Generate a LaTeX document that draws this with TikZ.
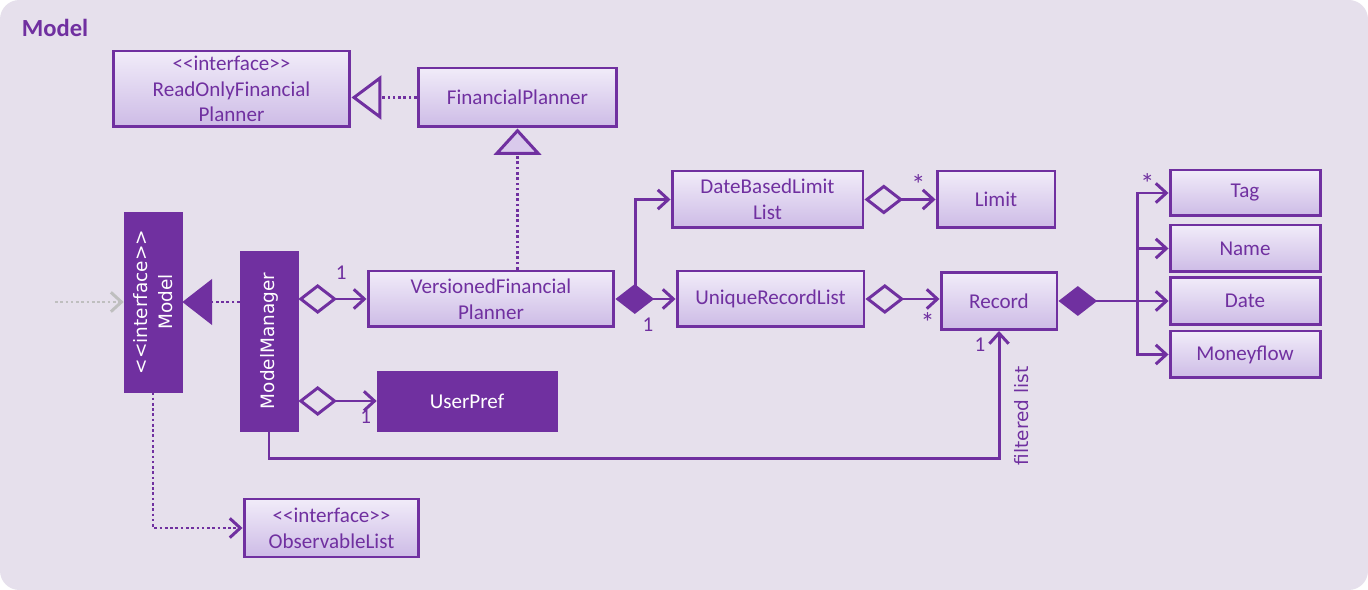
\documentclass[tikz,border=0pt]{standalone}
\usepackage{fontspec}
\setmainfont{Carlito}
\newfontfamily\vfont{DejaVu Sans}
\usetikzlibrary{arrows.meta,positioning,calc}
\definecolor{umlpurple}{HTML}{7030A0}
\definecolor{bg}{HTML}{E6E0EC}
\definecolor{boxtop}{HTML}{F1ECF9}
\definecolor{boxbot}{HTML}{CDBBE6}
\definecolor{trifill}{HTML}{D9CAEC}

\begin{document}
\begin{tikzpicture}[
  x=0.02cm, y=-0.02cm,
  font=\fontsize{12}{14.7}\selectfont,
  box/.style={draw=umlpurple, line width=1.7pt, top color=boxtop, bottom color=boxbot, text=umlpurple, align=center, inner sep=2pt},
  darkbox/.style={draw=umlpurple, fill=umlpurple, text=white, align=center, inner sep=2pt},
  vtext/.style={font=\vfont\fontsize{10.5}{14.5}\selectfont},
  mult/.style={text=umlpurple, inner sep=1pt},
  star/.style={mult, font=\fontsize{16}{16}\selectfont},
  assoc/.style={draw=umlpurple, line width=1.7pt, -{Straight Barb[length=6pt,width=11pt]}},
  agg/.style={assoc, {Diamond[open,length=22pt,width=17pt]}-{Straight Barb[length=6pt,width=11pt]}},
  comp/.style={assoc, {Diamond[length=22pt,width=17pt]}-{Straight Barb[length=6pt,width=11pt]}},
  dotline/.style={draw=umlpurple, line width=1.7pt, dash pattern=on 1.5pt off 1.5pt}
]
% frame
\fill[white] (0,0) rectangle (1368,590);
\fill[bg, rounded corners=11pt] (0,0) rectangle (1368,590);
\useasboundingbox (0,0) rectangle (1368,590);
\node[text=umlpurple, font=\fontsize{14}{16}\selectfont\bfseries] (title) at (55,28) {Model};

% classes
\node[box, minimum width=4.74cm, minimum height=1.52cm] (rofp) at (231.5,89) {<{}<interface>{}>\\ReadOnlyFinancial\\Planner};
\node[box, minimum width=3.98cm, minimum height=1.18cm] (fp) at (517.5,97.5) {FinancialPlanner};
\node[darkbox, vtext, rotate=90, minimum width=3.6cm, minimum height=1.16cm] (model) at (153,302) {<{}<interface>{}>\\Model};
\node[darkbox, vtext, rotate=90, minimum width=3.6cm, minimum height=1.16cm] (mm) at (269,341) {ModelManager};
\node[box, minimum width=4.92cm, minimum height=1.12cm] (vfp) at (491,299) {VersionedFinancial\\Planner};
\node[box, minimum width=3.82cm, minimum height=1.14cm] (dbll) at (767.5,199.5) {DateBasedLimit\\List};
\node[box, minimum width=2.36cm, minimum height=1.14cm] (limit) at (996,199.5) {Limit};
\node[box, minimum width=3.74cm, minimum height=1.12cm] (url) at (770.5,299) {UniqueRecordList};
\node[box, minimum width=2.32cm, minimum height=1.14cm] (record) at (999,301) {Record};
\node[box, minimum width=3.0cm, minimum height=0.92cm] (tag) at (1245,193) {Tag};
\node[box, minimum width=3.0cm, minimum height=0.94cm] (name) at (1245,248.5) {Name};
\node[box, minimum width=3.0cm, minimum height=0.94cm] (date) at (1245,301) {Date};
\node[box, minimum width=3.0cm, minimum height=0.94cm] (money) at (1245,354.5) {Moneyflow};
\node[darkbox, minimum width=3.6cm, minimum height=1.2cm] (userpref) at (467,401) {UserPref};
\node[box, minimum width=3.5cm, minimum height=1.16cm] (obs) at (331.5,528) {<{}<interface>{}>\\ObservableList};

% realisations
\draw[dotline, -{Triangle[fill=bg, length=17pt, width=25pt]}] (fp.west) -- (rofp.east |- fp.west);
\draw[dotline, -{Triangle[fill=trifill, length=15pt, width=27pt]}] (vfp.north -| fp.south) -- (fp.south);
\draw[dotline, -{Triangle[length=17pt, width=26pt]}] (mm.north |- model.south) -- (model.south);
\coordinate (ext) at (55,302);
\draw[dotline, draw=gray!50, -{Straight Barb[length=6pt,width=11pt]}] (ext) -- (model.north);
\draw[dotline, -{Straight Barb[length=6pt,width=11pt]}] (model.west) |- (obs.west);

% associations
\draw[agg] (mm.south |- vfp.west) -- node[mult, pos=0.63, above=9pt] {1} (vfp.west);
\draw[agg] (mm.south |- userpref.west) -- node[mult, pos=0.86, below=3pt] {1} (userpref.west);
\draw[assoc] ($(vfp.east)+(20,0)$) |- (dbll.west);
\draw[comp] (vfp.east) -- node[mult, pos=0.54, below=9pt] {1} (url.west);
\draw[agg] (dbll.east) -- node[star, pos=0.76, above=1pt] {*} (limit.west);
\draw[agg] (url.east) -- node[star, pos=0.84, below=6pt] {*} (record.west |- url.east);
\coordinate (fork) at ($(record.east)+(79,0)$);
\draw[assoc, {Diamond[length=22pt,width=17pt]}-] (record.east) -- (fork);
\draw[assoc] (fork) |- node[star, pos=0.66, above=-2pt] {*} (tag.west);
\foreach \n in {name,date,money}
  \draw[assoc] (fork) |- (\n.west);
\draw[assoc] (mm.west) -- ++(0,27) -| (record.south);
\node[mult] at ($(record.south)+(-19,14)$) {1};
\node[mult, vtext, rotate=90, text=umlpurple] at ($(record.south)+(23,85)$) {filtered list};
\end{tikzpicture}
\end{document}
